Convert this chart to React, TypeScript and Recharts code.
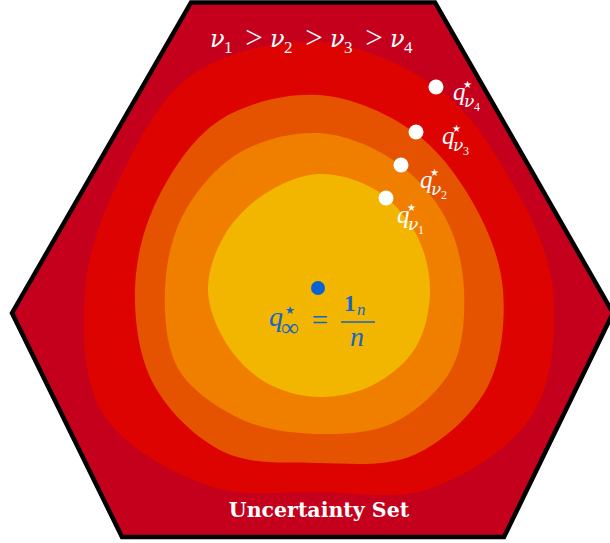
import React from 'react';
import { ScatterChart, Scatter, XAxis, YAxis } from 'recharts';

type Pt = { x: number; y: number };

// all positions in image space (x right, y down)
const HEXAGON: [number, number][] = [
  [191, 2.5], [435, 2.5], [613, 313], [504, 537], [122, 537], [12, 313],
];

// level set boundaries, outermost first; points go clockwise from the right
const LEVEL_NU4: [number, number][] = [
  [553, 290], [533, 414], [432, 488], [318, 492], [206, 485], [103, 414],
  [85, 290], [121, 176], [193, 74], [318, 42], [436, 87], [510, 179],
];
const LEVEL_NU3: [number, number][] = [
  [503, 290], [487, 388], [414, 455], [318, 463], [224, 452], [154, 385],
  [135, 290], [158, 198], [220, 120], [318, 95], [411, 130], [472, 201],
];
const LEVEL_NU2: [number, number][] = [
  [464, 290], [452, 368], [395, 422], [320, 434], [243, 420], [179, 370],
  [165, 290], [184, 213], [239, 153], [318, 133], [393, 160], [445, 217],
];
const LEVEL_NU1: [number, number][] = [
  [430, 290], [416, 347], [373, 385], [318, 397], [265, 382], [226, 343],
  [208, 290], [224, 236], [263, 195], [318, 174], [376, 190], [416, 234],
];

const Q_POINTS = [
  { x: 386, y: 198, sub: '1' },
  { x: 401, y: 165, sub: '2' },
  { x: 416, y: 132, sub: '3' },
  { x: 436, y: 87, sub: '4' },
];
const Q_CENTER = [{ x: 318, y: 288 }];

const TITLE = 'Uncertainty Set';
const ORDER_NUS = ['1', '2', '3', '4'];

const CRIMSON = '#c4001c';
const LEVEL_COLORS = ['#dd0300', '#e65300', '#f07f00', '#f2b500'];
const BLUE = '#1565c8';
const SERIF = '"Liberation Serif", "DejaVu Serif", serif';
const GREEK = '"DejaVu Serif", serif';
const SYMBOL_FONT = '"DejaVu Sans", sans-serif';

// where each q label sits relative to its dot
const Q_LABEL_OFFSET: Record<string, [number, number]> = {
  '1': [11, 25],
  '2': [19, 23],
  '3': [26, 12],
  '4': [17, 13],
};

const toPts = (arr: [number, number][]) => arr.map(([x, y]) => ({ x, y }));

function smoothClosed(points: Pt[]) {
  const n = points.length;
  if (!n) return '';
  let d = `M${points[0].x},${points[0].y}`;
  for (let i = 0; i < n; i++) {
    const p0 = points[(i - 1 + n) % n];
    const p1 = points[i];
    const p2 = points[(i + 1) % n];
    const p3 = points[(i + 2) % n];
    const c1x = p1.x + (p2.x - p0.x) / 6;
    const c1y = p1.y + (p2.y - p0.y) / 6;
    const c2x = p2.x - (p3.x - p1.x) / 6;
    const c2y = p2.y - (p3.y - p1.y) / 6;
    d += ` C${c1x},${c1y} ${c2x},${c2y} ${p2.x},${p2.y}`;
  }
  return d + ' Z';
}

const noSymbol = () => <g />;

const blobLine = (fill: string) => (p: any) => (
  <path d={smoothClosed(p.points)} fill={fill} stroke="none" />
);

const hexLine = (p: any) => (
  <path
    d={'M' + p.points.map((q: Pt) => `${q.x},${q.y}`).join(' L') + ' Z'}
    fill={CRIMSON}
    stroke="#000"
    strokeWidth={4.5}
    strokeLinejoin="miter"
  />
);

function QLabel({ x, y, sub }: { x: number; y: number; sub: string }) {
  return (
    <g fill="#fff" fontFamily={SERIF}>
      <text x={x} y={y} fontSize={25} fontStyle="italic">q</text>
      <text x={x + 10} y={y - 12} fontSize={10} fontFamily={SYMBOL_FONT}>★</text>
      <text x={x + 11} y={y + 7} fontSize={17} fontStyle="italic" fontFamily={GREEK}>ν</text>
      <text x={x + 21} y={y + 11} fontSize={12}>{sub}</text>
    </g>
  );
}

const QDot = (p: any) => {
  const { cx, cy, payload } = p;
  const [dx, dy] = Q_LABEL_OFFSET[payload.sub];
  return (
    <g>
      <circle cx={cx} cy={cy} r={7.5} fill="#fff" />
      <QLabel x={cx + dx} y={cy + dy} sub={payload.sub} />
    </g>
  );
};

const CenterDot = (p: any) => <circle cx={p.cx} cy={p.cy} r={7} fill="#0a62d2" />;

function OrderLine() {
  // nu_1 > nu_2 > nu_3 > nu_4
  const startX = 210;
  const step = 60;
  return (
    <g fill="#fff" fontFamily={SERIF}>
      {ORDER_NUS.map((k, i) => (
        <g key={k}>
          <text x={startX + i * step} y={47} fontSize={24} fontStyle="italic" fontFamily={GREEK}>ν</text>
          <text x={startX + i * step + 14} y={53} fontSize={17}>{k}</text>
          {i < ORDER_NUS.length - 1 && (
            <text x={startX + i * step + 44} y={48} fontSize={31} textAnchor="middle">&gt;</text>
          )}
        </g>
      ))}
    </g>
  );
}

function Formula() {
  return (
    <g fill={BLUE} fontFamily={SERIF}>
      <text x={269} y={326} fontSize={28} fontStyle="italic">q</text>
      <text x={285} y={314} fontSize={11} fontFamily={SYMBOL_FONT}>★</text>
      <text x={281} y={336} fontSize={25}>∞</text>
      <text x={320} y={330} fontSize={29} textAnchor="middle">=</text>
      <text x={344} y={311} fontSize={23} fontWeight="bold">1</text>
      <text x={357} y={315} fontSize={17} fontStyle="italic">n</text>
      <line x1={341} x2={375} y1={322} y2={322} stroke={BLUE} strokeWidth={1.6} />
      <text x={350} y={346} fontSize={28} fontStyle="italic">n</text>
    </g>
  );
}

export default function App() {
  const levels = [LEVEL_NU4, LEVEL_NU3, LEVEL_NU2, LEVEL_NU1];
  return (
    <div style={{ position: 'absolute', left: 0, top: 0, width: 610, height: 543, background: '#fff' }}>
      <ScatterChart width={610} height={543} margin={{ top: 0, right: 0, bottom: 0, left: 0 }}>
        <XAxis type="number" dataKey="x" domain={[0, 610]} allowDataOverflow hide />
        <YAxis type="number" dataKey="y" domain={[0, 543]} allowDataOverflow reversed hide />
        <Scatter
          data={toPts(HEXAGON)}
          line={hexLine}
          lineType="joint"
          shape={noSymbol}
          isAnimationActive={false}
        />
        {levels.map((lv, i) => (
          <Scatter
            key={i}
            data={toPts(lv)}
            line={blobLine(LEVEL_COLORS[i])}
            lineType="joint"
            shape={noSymbol}
            isAnimationActive={false}
          />
        ))}
        <Scatter data={Q_POINTS} shape={QDot} isAnimationActive={false} />
        <Scatter data={Q_CENTER} shape={CenterDot} isAnimationActive={false} />
      </ScatterChart>
      {/* text annotations sit on top of the plotted layers */}
      <svg
        width={610}
        height={543}
        style={{ position: 'absolute', left: 0, top: 0, pointerEvents: 'none' }}
      >
        <OrderLine />
        <Formula />
        <text
          x={319}
          y={517}
          fill="#fff"
          fontSize={20.5}
          fontWeight="bold"
          textAnchor="middle"
          fontFamily='"DejaVu Serif", serif'
        >
          {TITLE}
        </text>
      </svg>
    </div>
  );
}
